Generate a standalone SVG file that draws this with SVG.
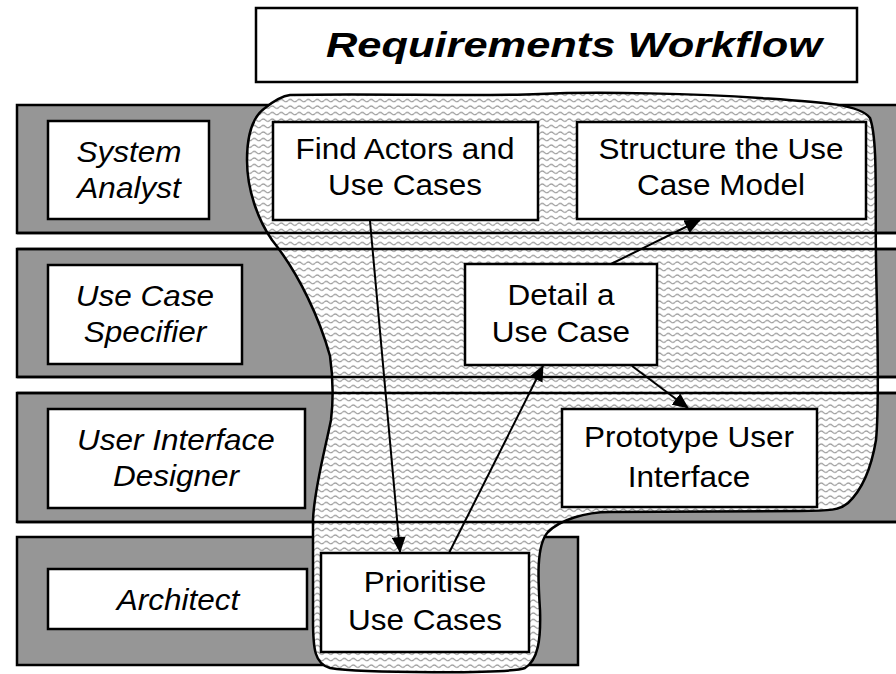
<svg xmlns="http://www.w3.org/2000/svg" width="896" height="674" viewBox="0 0 896 674">
  <style>
    .lane { fill: #969696; stroke: #000; stroke-width: 2.5; }
    .sep { stroke: #000; stroke-width: 2.5; fill: none; }
    .box { fill: #fff; stroke: #000; stroke-width: 2.5; }
    .t { font-family: "Liberation Sans", Arial, sans-serif; font-size: 30px; fill: #000; text-anchor: middle; }
    .it { font-style: italic; }
    .title { font-family: "Liberation Sans", Arial, sans-serif; font-size: 35px; font-weight: bold; font-style: italic; fill: #000; }
    .flow { stroke: #000; stroke-width: 2; fill: none; marker-end: url(#arrow); }
  </style>
  <defs>
    <pattern id="wave" width="9" height="6.5" patternUnits="userSpaceOnUse">
      <rect width="9" height="6.5" fill="#fff"/>
      <path d="M0,3.2 C1.5,1.6 3,1.6 4.5,3.2 S7.5,4.8 9,3.2" fill="none" stroke="#8c8c8c" stroke-width="1"/>
    </pattern>
    <marker id="arrow" markerUnits="userSpaceOnUse" markerWidth="16" markerHeight="14" refX="15" refY="7" orient="auto">
      <path d="M0,0 L16,7 L0,14 Z" fill="#000"/>
    </marker>
  </defs>

  <!-- title -->
  <g id="title">
    <rect class="box" x="256" y="8" width="601" height="74"/>
    <text class="title" x="326" y="57" textLength="496" lengthAdjust="spacingAndGlyphs">Requirements Workflow</text>
  </g>

  <!-- swimlane backgrounds -->
  <g id="lanes">
    <rect class="lane" x="17" y="105" width="900" height="128"/>
    <rect class="lane" x="17" y="249" width="900" height="128"/>
    <rect class="lane" x="17" y="393" width="900" height="129"/>
    <rect class="lane" x="17" y="537" width="561" height="128"/>
  </g>

  <!-- workflow region -->
  <path id="workflow-region" d="M290,95 C380,93 470,97 540,94 C600,91 700,94 760,98 C820,102 860,104 870,118 C878,140 875,200 876,260 C877,320 880,400 876,440 C871,470 862,490 848,503 C840,510 830,511 800,511 L610,512 C585,512 560,520 548,532 C536,545 538,580 540,610 C541,640 538,660 525,668 C510,674 360,673 330,668 C315,664 313,650 313,620 L313,520 C314,490 325,450 331,420 C334,395 332,370 330,356 C320,320 300,275 272,240 C258,220 247,190 247,160 C247,130 255,115 265,108 C275,100 282,96 290,95 Z" fill="url(#wave)" stroke="#000" stroke-width="2.5"/>

  <!-- lane boundaries drawn over the region -->
  <g id="lane-edges">
    <line class="sep" x1="17" y1="233" x2="896" y2="233"/>
    <line class="sep" x1="17" y1="249" x2="896" y2="249"/>
    <line class="sep" x1="17" y1="377" x2="896" y2="377"/>
    <line class="sep" x1="17" y1="393" x2="896" y2="393"/>
    <line class="sep" x1="17" y1="522" x2="896" y2="522"/>
  </g>

  <!-- roles -->
  <g id="role-system-analyst">
    <rect class="box" x="48" y="121" width="161" height="98"/>
    <text class="t it" transform="translate(129,0) scale(1.05,1)"><tspan x="0" y="162">System</tspan><tspan x="0" y="198">Analyst</tspan></text>
  </g>
  <g id="role-use-case-specifier">
    <rect class="box" x="48" y="265" width="194" height="99"/>
    <text class="t it" transform="translate(145,0) scale(1.05,1)"><tspan x="0" y="306">Use Case</tspan><tspan x="0" y="342">Specifier</tspan></text>
  </g>
  <g id="role-ui-designer">
    <rect class="box" x="48" y="409" width="257" height="99"/>
    <text class="t it" transform="translate(176,0) scale(1.05,1)"><tspan x="0" y="450">User Interface</tspan><tspan x="0" y="486">Designer</tspan></text>
  </g>
  <g id="role-architect">
    <rect class="box" x="48" y="569" width="259" height="60"/>
    <text class="t it" transform="translate(178,0) scale(1.05,1)"><tspan x="0" y="610">Architect</tspan></text>
  </g>

  <!-- activities -->
  <g id="act-find-actors">
    <rect class="box" x="273" y="122" width="265" height="98"/>
    <text class="t" transform="translate(405,0) scale(1.05,1)"><tspan x="0" y="159">Find Actors and</tspan><tspan x="0" y="195">Use Cases</tspan></text>
  </g>
  <g id="act-structure-model">
    <rect class="box" x="577" y="122" width="289" height="97"/>
    <text class="t" transform="translate(721,0) scale(1.05,1)"><tspan x="0" y="159">Structure the Use</tspan><tspan x="0" y="195">Case Model</tspan></text>
  </g>
  <g id="act-detail-use-case">
    <rect class="box" x="465" y="264" width="192" height="101"/>
    <text class="t" transform="translate(561,0) scale(1.05,1)"><tspan x="0" y="305">Detail a</tspan><tspan x="0" y="342">Use Case</tspan></text>
  </g>
  <g id="act-prototype-ui">
    <rect class="box" x="562" y="409" width="255" height="98"/>
    <text class="t" transform="translate(689,0) scale(1.05,1)"><tspan x="0" y="447">Prototype User</tspan><tspan x="0" y="487">Interface</tspan></text>
  </g>
  <g id="act-prioritise">
    <rect class="box" x="321" y="553" width="208" height="99"/>
    <text class="t" transform="translate(425,0) scale(1.05,1)"><tspan x="0" y="592">Prioritise</tspan><tspan x="0" y="630">Use Cases</tspan></text>
  </g>

  <!-- connectors -->
  <g id="connectors">
    <line class="flow" x1="370" y1="221" x2="400" y2="552"/>
    <line class="flow" x1="449" y1="553" x2="543" y2="366"/>
    <line class="flow" x1="611" y1="264" x2="700" y2="220"/>
    <line class="flow" x1="632" y1="366" x2="688" y2="408"/>
  </g>
</svg>
